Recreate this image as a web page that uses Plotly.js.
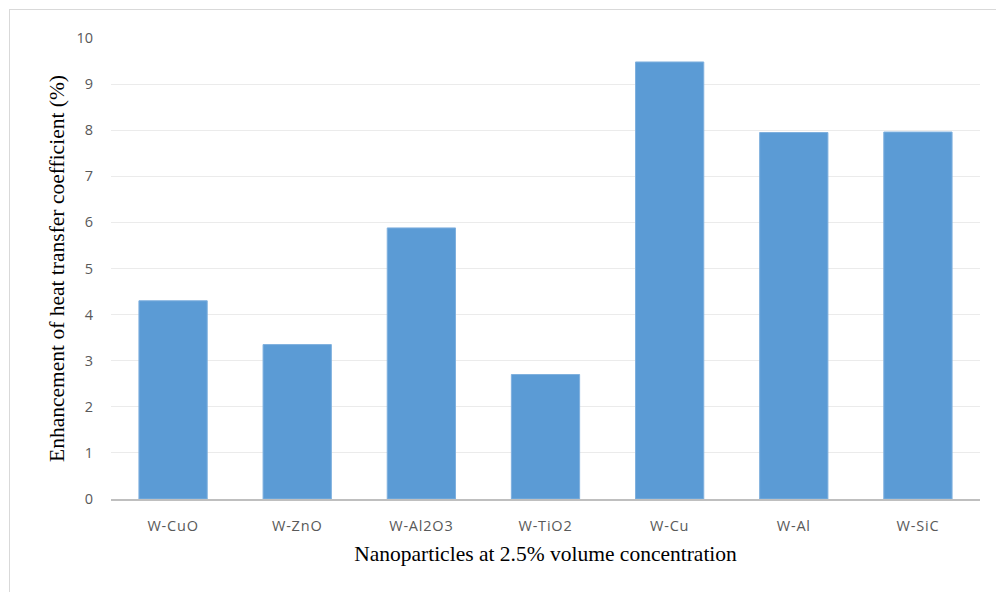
<!DOCTYPE html>
<html><head><meta charset="utf-8">
<script src="https://cdn.plot.ly/plotly-3.0.1.min.js"></script>
<style>
html,body{margin:0;padding:0;background:#fff;}
#frame{position:absolute;left:9px;top:9px;width:1000px;height:600px;border-left:1.5px solid #d9d9d9;border-top:1.5px solid #d9d9d9;pointer-events:none;}
#chart{width:996px;height:592px;}
.xtick text{letter-spacing:0.8px;}
</style></head>
<body>
<div id="chart"></div>
<div id="frame"></div>
<script>
const categories = ["W-CuO","W-ZnO","W-Al2O3","W-TiO2","W-Cu","W-Al","W-SiC"];
const enhancement = [4.3, 3.35, 5.88, 2.7, 9.48, 7.95, 7.96];
const yTicks = [0,1,2,3,4,5,6,7,8,9,10];

Plotly.newPlot('chart', [{
  type:'bar', x:categories, y:enhancement,
  marker:{color:'#5b9bd5', line:{color:'#7fb0de', width:1}},
  hoverinfo:'x+y'
}], {
  width:996, height:592,
  margin:{l:111, r:16, t:38, b:93},
  paper_bgcolor:'rgba(0,0,0,0)', plot_bgcolor:'#fff',
  bargap:0.45,
  showlegend:false,
  xaxis:{
    tickfont:{family:'Open Sans, Lato, sans-serif', size:14.5, color:'#595959'},
    showline:true, linecolor:'#bfbfbf', linewidth:1.5,
    showgrid:false, ticks:'', ticklabelstandoff:13,
    title:{text:'Nanoparticles at 2.5% volume concentration', standoff:12,
      font:{family:'Liberation Serif, Times New Roman, serif', size:21.5, color:'#000'}}
  },
  yaxis:{
    range:[0,10], tickvals:yTicks,
    tickfont:{family:'Open Sans, Lato, sans-serif', size:14.5, color:'#595959'},
    showgrid:true, gridcolor:'#ebebeb', gridwidth:1,
    zeroline:false, showline:false, ticks:'', ticklabelstandoff:17,
    title:{text:'Enhancement of heat transfer coefficient (%)', standoff:5,
      font:{family:'Liberation Serif, Times New Roman, serif', size:21.5, color:'#000'}}
  }
}, {displayModeBar:false});
</script>
</body></html>
